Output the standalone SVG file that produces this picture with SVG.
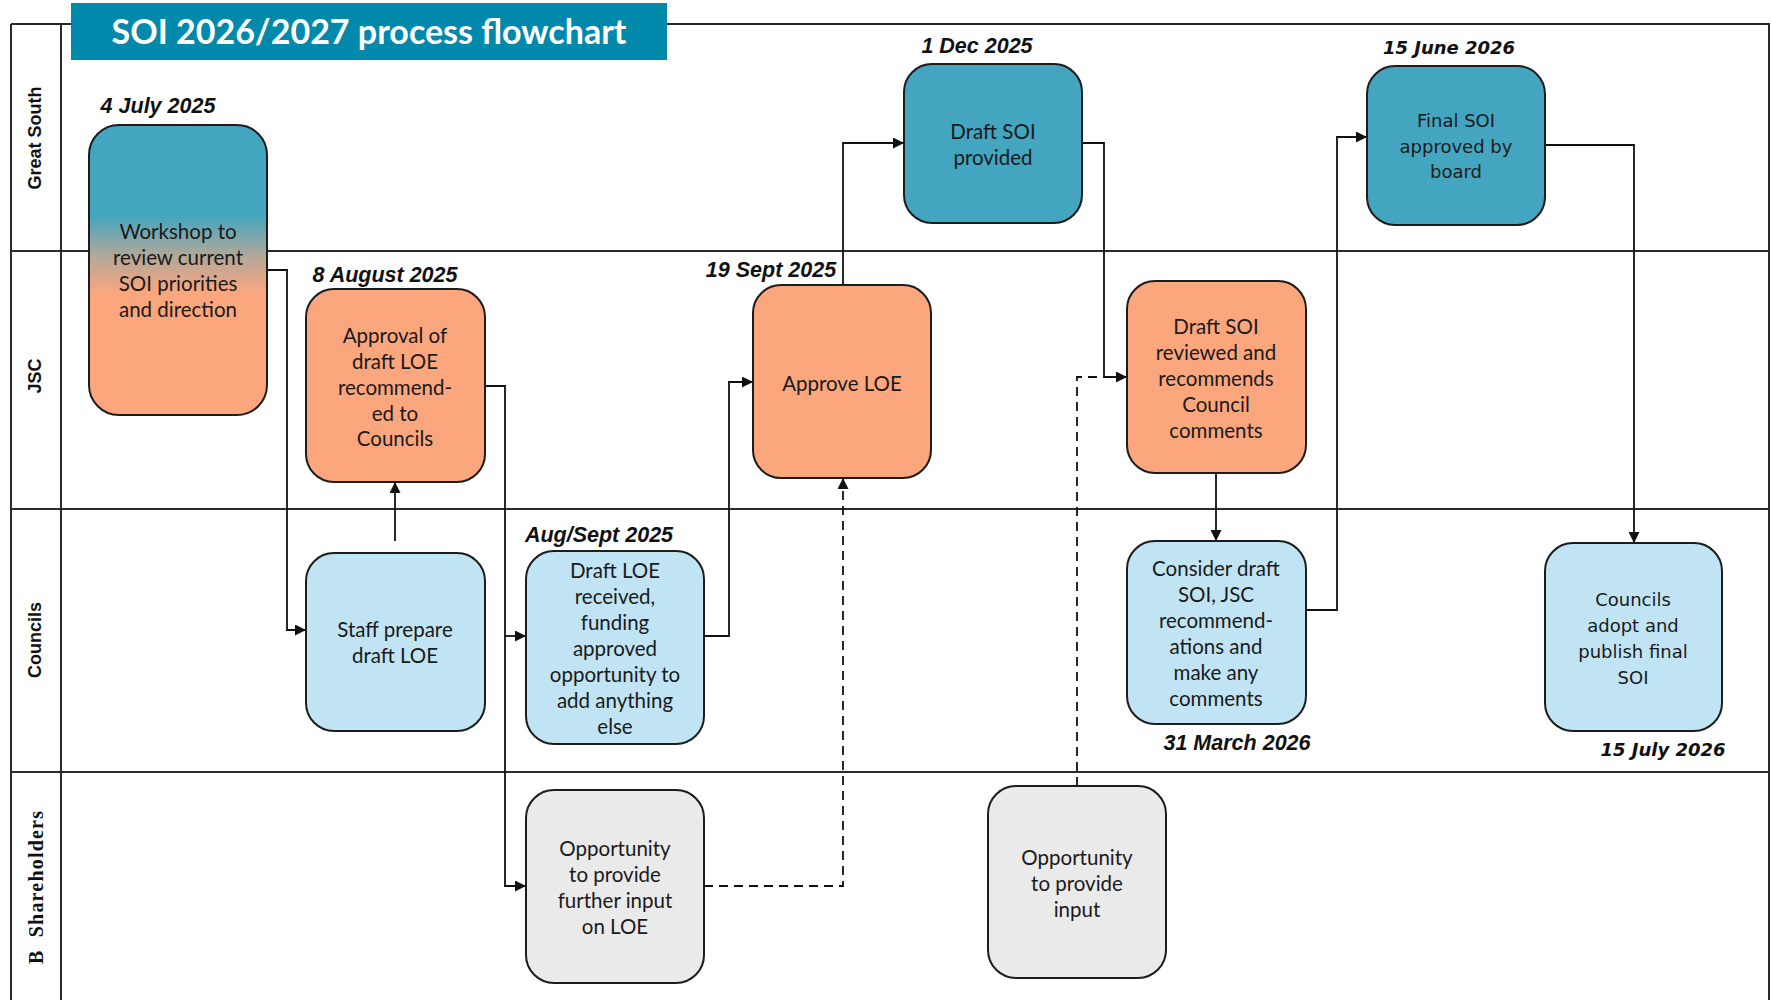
<svg xmlns="http://www.w3.org/2000/svg" width="1771" height="1000" viewBox="0 0 1771 1000">
<style>
.lane{stroke:#2a2a2a;stroke-width:2;fill:none}
.node rect{stroke:#1c1c1c;stroke-width:2}
.teal{fill:#43A5C0}
.orange{fill:#FCA67E}
.lblue{fill:#C1E4F4}
.gray{fill:#EAEAEA}
.t{font-family:Lato,"Open Sans",sans-serif;font-size:20.5px;fill:#1a1a1a;text-anchor:middle}
.tv{font-family:"DejaVu Sans",Verdana,sans-serif;font-size:18px;fill:#1a1a1a;text-anchor:middle}
.date{font-family:"Liberation Sans",Arial,sans-serif;font-size:21.5px;font-weight:bold;font-style:italic;fill:#111;text-anchor:middle}
.datev{font-family:"DejaVu Sans",Verdana,sans-serif;font-size:18px;font-weight:bold;font-style:italic;fill:#111;text-anchor:middle}
.lanelbl{font-family:"Liberation Sans",Arial,sans-serif;font-size:18px;font-weight:bold;fill:#111;text-anchor:middle}
.conn{stroke:#111;stroke-width:1.8;fill:none}
.dash{stroke-dasharray:9 6}
</style>
<defs>
<marker id="arr" viewBox="0 0 10 10" refX="10" refY="5" markerWidth="11" markerHeight="11" markerUnits="userSpaceOnUse" orient="auto">
<path d="M0,0 L10,5 L0,10 z" fill="#111"/>
</marker>
<linearGradient id="grad" x1="0" y1="0" x2="0" y2="1">
<stop offset="0" stop-color="#43A5C0"/>
<stop offset="0.31" stop-color="#43A5C0"/>
<stop offset="0.45" stop-color="#B0A89A"/>
<stop offset="0.58" stop-color="#FCA67E"/>
<stop offset="1" stop-color="#FCA67E"/>
</linearGradient>
</defs>
<rect x="0" y="0" width="1771" height="1000" fill="#ffffff"/>

<g id="lanes">
<line class="lane" x1="11" y1="24" x2="1770" y2="24"/>
<line class="lane" x1="11" y1="24" x2="11" y2="1000"/>
<line class="lane" x1="61" y1="24" x2="61" y2="1000"/>
<line class="lane" x1="1769" y1="24" x2="1769" y2="1000"/>
<line class="lane" x1="11" y1="251" x2="1770" y2="251"/>
<line class="lane" x1="11" y1="509" x2="1770" y2="509"/>
<line class="lane" x1="11" y1="772" x2="1770" y2="772"/>
<text class="lanelbl" transform="translate(41,138) rotate(-90)">Great South</text>
<text class="lanelbl" transform="translate(41,376) rotate(-90)">JSC</text>
<text class="lanelbl" transform="translate(41,640) rotate(-90)">Councils</text>
<text transform="translate(43,964) rotate(-90)" style="font-family:'Liberation Serif','Times New Roman',serif;font-size:20px;font-weight:bold;letter-spacing:1.2px;fill:#111">B <tspan dx="6">Shareholders</tspan></text>
</g>

<g id="title">
<rect x="71" y="3" width="596" height="57" fill="#0089AB"/>
<text x="369" y="44" style="font-family:Lato,'Open Sans',sans-serif;font-size:34px;font-weight:bold;fill:#ffffff;text-anchor:middle">SOI 2026/2027 process flowchart</text>
</g>

<g id="connectors">
<path class="conn" d="M267,270 H287 V630 H306" marker-end="url(#arr)"/>
<path class="conn" d="M395,541 V482" marker-end="url(#arr)"/>
<path class="conn" d="M485,386 H505 V886 H526" marker-end="url(#arr)"/>
<path class="conn" d="M505,636 H526" marker-end="url(#arr)"/>
<path class="conn" d="M704,636 H729 V382 H753" marker-end="url(#arr)"/>
<path class="conn dash" d="M704,886 H843 V478" marker-end="url(#arr)"/>
<path class="conn" d="M843,285 V143 H904" marker-end="url(#arr)"/>
<path class="conn" d="M1082,143 H1104 V377 H1127" marker-end="url(#arr)"/>
<path class="conn dash" d="M1077,786 V377 H1117"/>
<path class="conn" d="M1216,473 V541" marker-end="url(#arr)"/>
<path class="conn" d="M1306,610 H1337 V137 H1367" marker-end="url(#arr)"/>
<path class="conn" d="M1545,145 H1634 V543" marker-end="url(#arr)"/>
</g>

<g id="n-workshop" class="node">
<rect x="89" y="125" width="178" height="290" rx="30" fill="url(#grad)"/>
<text class="date" x="158" y="113">4 July 2025</text>
<text class="t" x="178" y="239">Workshop to</text>
<text class="t" x="178" y="265">review current</text>
<text class="t" x="178" y="291">SOI priorities</text>
<text class="t" x="178" y="317">and direction</text>
</g>

<g id="n-approval" class="node">
<rect x="306" y="289" width="179" height="193" rx="28" class="orange"/>
<text class="date" x="385" y="282">8 August 2025</text>
<text class="t" x="395" y="343">Approval of</text>
<text class="t" x="395" y="369">draft LOE</text>
<text class="t" x="395" y="395">recommend-</text>
<text class="t" x="395" y="421">ed to</text>
<text class="t" x="395" y="446">Councils</text>
</g>

<g id="n-staff" class="node">
<rect x="306" y="553" width="179" height="178" rx="28" class="lblue"/>
<text class="t" x="395" y="637">Staff prepare</text>
<text class="t" x="395" y="663">draft LOE</text>
</g>

<g id="n-received" class="node">
<rect x="526" y="551" width="178" height="193" rx="28" class="lblue"/>
<text class="date" x="599" y="542">Aug/Sept 2025</text>
<text class="t" x="615" y="578">Draft LOE</text>
<text class="t" x="615" y="604">received,</text>
<text class="t" x="615" y="630">funding</text>
<text class="t" x="615" y="656">approved</text>
<text class="t" x="615" y="682">opportunity to</text>
<text class="t" x="615" y="708">add anything</text>
<text class="t" x="615" y="734">else</text>
</g>

<g id="n-further" class="node">
<rect x="526" y="790" width="178" height="193" rx="28" class="gray"/>
<text class="t" x="615" y="856">Opportunity</text>
<text class="t" x="615" y="882">to provide</text>
<text class="t" x="615" y="908">further input</text>
<text class="t" x="615" y="934">on LOE</text>
</g>

<g id="n-approveloe" class="node">
<rect x="753" y="285" width="178" height="193" rx="28" class="orange"/>
<text class="date" x="771" y="277">19 Sept 2025</text>
<text class="t" x="842" y="391">Approve LOE</text>
</g>

<g id="n-draftsoi" class="node">
<rect x="904" y="64" width="178" height="159" rx="28" class="teal"/>
<text class="date" x="977" y="53">1 Dec 2025</text>
<text class="t" x="993" y="139">Draft SOI</text>
<text class="t" x="993" y="165">provided</text>
</g>

<g id="n-reviewed" class="node">
<rect x="1127" y="281" width="179" height="192" rx="28" class="orange"/>
<text class="t" x="1216" y="334">Draft SOI</text>
<text class="t" x="1216" y="360">reviewed and</text>
<text class="t" x="1216" y="386">recommends</text>
<text class="t" x="1216" y="412">Council</text>
<text class="t" x="1216" y="438">comments</text>
</g>

<g id="n-input" class="node">
<rect x="988" y="786" width="178" height="192" rx="28" class="gray"/>
<text class="t" x="1077" y="865">Opportunity</text>
<text class="t" x="1077" y="891">to provide</text>
<text class="t" x="1077" y="917">input</text>
</g>

<g id="n-consider" class="node">
<rect x="1127" y="541" width="179" height="183" rx="28" class="lblue"/>
<text class="t" x="1216" y="576">Consider draft</text>
<text class="t" x="1216" y="602">SOI, JSC</text>
<text class="t" x="1216" y="628">recommend-</text>
<text class="t" x="1216" y="654">ations and</text>
<text class="t" x="1216" y="680">make any</text>
<text class="t" x="1216" y="706">comments</text>
<text class="date" x="1237" y="750">31 March 2026</text>
</g>

<g id="n-final" class="node">
<rect x="1367" y="66" width="178" height="159" rx="28" class="teal"/>
<text class="datev" x="1449" y="54">15 June 2026</text>
<text class="tv" x="1456" y="127">Final SOI</text>
<text class="tv" x="1456" y="153">approved by</text>
<text class="tv" x="1456" y="178">board</text>
</g>

<g id="n-adopt" class="node">
<rect x="1545" y="543" width="177" height="188" rx="28" class="lblue"/>
<text class="tv" x="1633" y="606">Councils</text>
<text class="tv" x="1633" y="632">adopt and</text>
<text class="tv" x="1633" y="658">publish final</text>
<text class="tv" x="1633" y="684">SOI</text>
<text class="datev" x="1663" y="756">15 July 2026</text>
</g>
</svg>
